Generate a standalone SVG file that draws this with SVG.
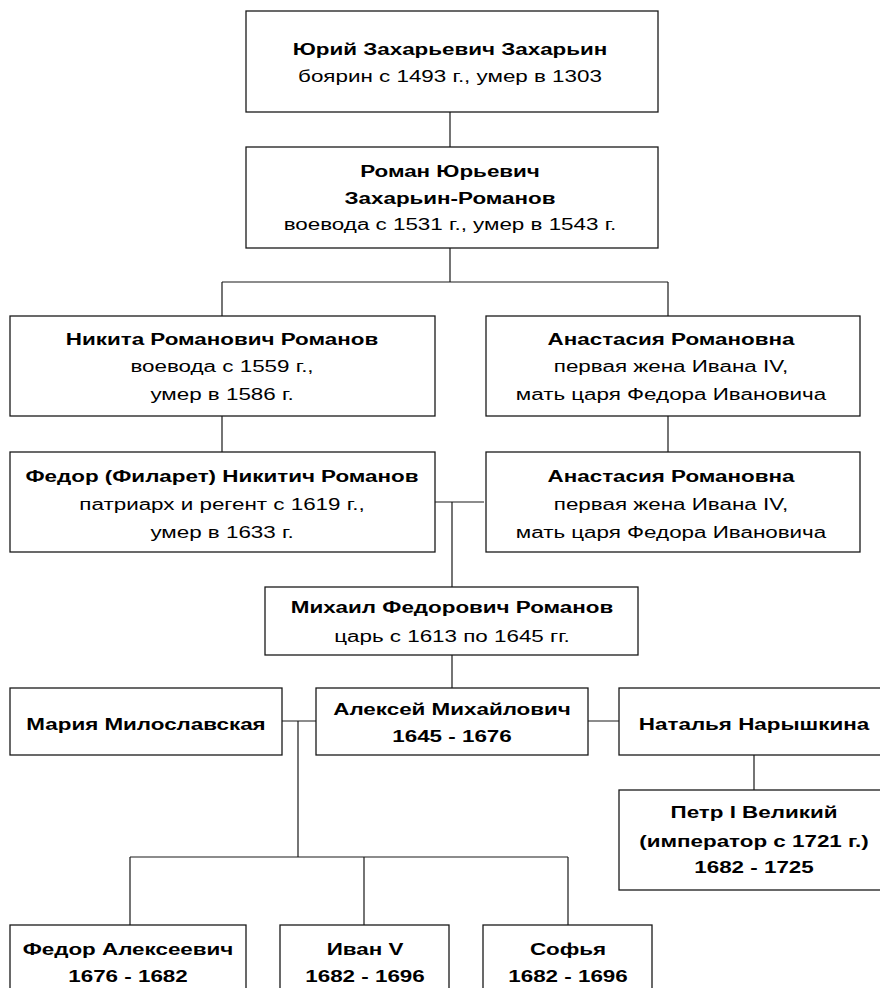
<svg xmlns="http://www.w3.org/2000/svg" width="880" height="988" viewBox="0 0 880 988">
<style>
.box{fill:#fff;stroke:#1a1a1a;stroke-width:1.3}
.ln{fill:none;stroke:#1a1a1a;stroke-width:1.2}
text{font-family:"Liberation Sans",Arial,sans-serif;font-size:16px;fill:#000;text-anchor:middle}
.b{font-weight:bold}
</style>
<rect width="880" height="988" fill="#fff"/>
<g id="connectors">
<path class="ln" d="M450 112V147M450 248V282M222 282H668M222 282V316M668 282V316M222 415V452M668 415V452M435 502H484M452 502V587M452 655V688M282 721H316M588 721H619M298 721V857M130 857H568M130 857V925M364 857V925M568 857V925M754 755V790"/>
</g>
<g id="n-yuri"><rect class="box" x="246" y="11" width="412" height="101"/>
<text class="b" transform="translate(450 55) scale(1.4 1)">Юрий Захарьевич Захарьин</text>
<text transform="translate(450 82) scale(1.4 1)">боярин с 1493 г., умер в 1303</text></g>
<g id="n-roman"><rect class="box" x="246" y="147" width="412" height="101"/>
<text class="b" transform="translate(450 177) scale(1.4 1)">Роман Юрьевич</text>
<text class="b" transform="translate(450 204) scale(1.4 1)">Захарьин-Романов</text>
<text transform="translate(450 230) scale(1.4 1)">воевода с 1531 г., умер в 1543 г.</text></g>
<g id="n-nikita"><rect class="box" x="10" y="316" width="425" height="100"/>
<text class="b" transform="translate(222 345) scale(1.4 1)">Никита Романович Романов</text>
<text transform="translate(222 372) scale(1.4 1)">воевода с 1559 г.,</text>
<text transform="translate(222 400) scale(1.4 1)">умер в 1586 г.</text></g>
<g id="n-anastasia1"><rect class="box" x="486" y="316" width="374" height="100"/>
<text class="b" transform="translate(671 345) scale(1.4 1)">Анастасия Романовна</text>
<text transform="translate(671 372) scale(1.4 1)">первая жена Ивана IV,</text>
<text transform="translate(671 400) scale(1.4 1)">мать царя Федора Ивановича</text></g>
<g id="n-fedor"><rect class="box" x="10" y="452" width="425" height="100"/>
<text class="b" transform="translate(222 482) scale(1.4 1)">Федор (Филарет) Никитич Романов</text>
<text transform="translate(222 510) scale(1.4 1)">патриарх и регент с 1619 г.,</text>
<text transform="translate(222 538) scale(1.4 1)">умер в 1633 г.</text></g>
<g id="n-anastasia2"><rect class="box" x="486" y="452" width="374" height="100"/>
<text class="b" transform="translate(671 482) scale(1.4 1)">Анастасия Романовна</text>
<text transform="translate(671 510) scale(1.4 1)">первая жена Ивана IV,</text>
<text transform="translate(671 538) scale(1.4 1)">мать царя Федора Ивановича</text></g>
<g id="n-mikhail"><rect class="box" x="265" y="587" width="373" height="68"/>
<text class="b" transform="translate(452 613) scale(1.4 1)">Михаил Федорович Романов</text>
<text transform="translate(452 642) scale(1.4 1)">царь с 1613 по 1645 гг.</text></g>
<g id="n-maria"><rect class="box" x="10" y="688" width="272" height="67"/>
<text class="b" transform="translate(146 730) scale(1.4 1)">Мария Милославская</text></g>
<g id="n-aleksei"><rect class="box" x="316" y="688" width="272" height="67"/>
<text class="b" transform="translate(452 715) scale(1.4 1)">Алексей Михайлович</text>
<text class="b" transform="translate(452 742) scale(1.4 1)">1645 - 1676</text></g>
<g id="n-natalia"><rect class="box" x="619" y="688" width="270" height="67"/>
<text class="b" transform="translate(754 730) scale(1.4 1)">Наталья Нарышкина</text></g>
<g id="n-petr"><rect class="box" x="619" y="790" width="270" height="100"/>
<text class="b" transform="translate(754 818) scale(1.4 1)">Петр I Великий</text>
<text class="b" transform="translate(754 847) scale(1.4 1)">(император с 1721 г.)</text>
<text class="b" transform="translate(754 873) scale(1.4 1)">1682 - 1725</text></g>
<g id="n-fedorA"><rect class="box" x="10" y="925" width="236" height="80"/>
<text class="b" transform="translate(128 955) scale(1.4 1)">Федор Алексеевич</text>
<text class="b" transform="translate(128 982) scale(1.4 1)">1676 - 1682</text></g>
<g id="n-ivan"><rect class="box" x="280" y="925" width="169" height="80"/>
<text class="b" transform="translate(365 955) scale(1.4 1)">Иван V</text>
<text class="b" transform="translate(365 982) scale(1.4 1)">1682 - 1696</text></g>
<g id="n-sofia"><rect class="box" x="483" y="925" width="169" height="80"/>
<text class="b" transform="translate(568 955) scale(1.4 1)">Софья</text>
<text class="b" transform="translate(568 982) scale(1.4 1)">1682 - 1696</text></g>
</svg>
